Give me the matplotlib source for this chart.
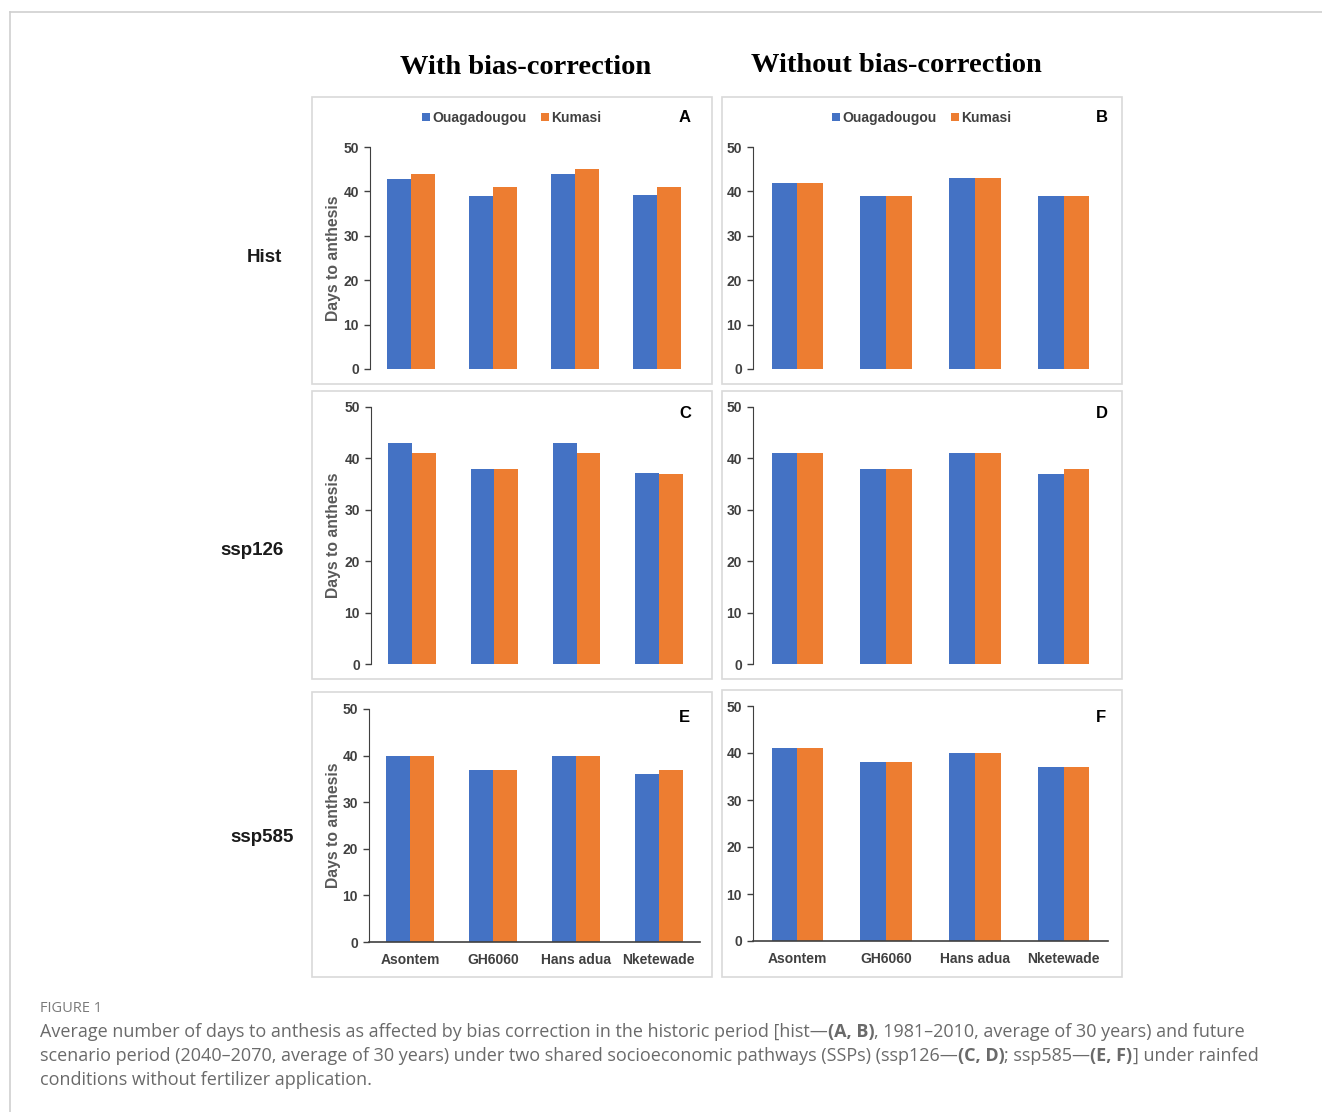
import matplotlib
matplotlib.use("Agg")
import matplotlib.pyplot as plt
from matplotlib.patches import Rectangle
from matplotlib.lines import Line2D
import numpy as np

W, H = 1322, 1112

cultivars = ["Asontem", "GH6060", "Hans adua", "Nketewade"]
sites = ["Ouagadougou", "Kumasi"]
colors = ["#4472C4", "#ED7D31"]

# days to anthesis, one pair of series per panel
a_ouaga = [42.7, 39, 44, 39.3]
a_kumasi = [44, 41, 45, 41]
b_ouaga = [42, 39, 43, 39]
b_kumasi = [42, 39, 43, 39]
c_ouaga = [43, 38, 43, 37.1]
c_kumasi = [41, 38, 41, 37]
d_ouaga = [41, 38, 41, 37]
d_kumasi = [41, 38, 41, 38]
e_ouaga = [40, 37, 40, 36]
e_kumasi = [40, 37, 40, 37]
f_ouaga = [41, 38, 40, 37]
f_kumasi = [41, 38, 40, 37]

panel_letters = ["A", "B", "C", "D", "E", "F"]
panel_data = [(a_ouaga, a_kumasi), (b_ouaga, b_kumasi), (c_ouaga, c_kumasi),
              (d_ouaga, d_kumasi), (e_ouaga, e_kumasi), (f_ouaga, f_kumasi)]
row_labels = ["Hist", "ssp126", "ssp585"]
col_titles = ["With bias-correction", "Without bias-correction"]
yticks = [0, 10, 20, 30, 40, 50]

# pixel layout: axes (left, right, top, bottom) and outer boxes (x0, x1, y0, y1)
axes_px = [(370, 698, 147, 369), (753, 1108, 147, 369),
           (371, 700, 407, 664), (753, 1108, 407, 664),
           (369, 700, 709, 942), (753, 1108, 706, 941)]
boxes_px = [(312, 712, 97, 384), (722, 1122, 97, 384),
            (312, 712, 391, 679), (722, 1122, 391, 679),
            (312, 712, 692, 977), (722, 1122, 690, 977)]
letter_px = [(685, 118), (1102, 118), (685, 414), (1102, 414), (684, 718), (1101, 718)]

plt.rcParams["font.family"] = ["Liberation Sans", "DejaVu Sans"]
fig = plt.figure(figsize=(W / 100, H / 100), dpi=100)
dark = "#404040"


def fx(x):
    return x / W


def fy(y):
    return 1 - y / H


# outer frame of the figure
fig.add_artist(Line2D([fx(10), 1], [fy(12), fy(12)], color="#cfcfcf", lw=1.2))
fig.add_artist(Line2D([fx(10), fx(10)], [fy(12), 0], color="#cfcfcf", lw=1.2))

x = np.arange(len(cultivars))
bw = 0.29
for i, (ouaga, kumasi) in enumerate(panel_data):
    x0, x1, y0, y1 = boxes_px[i]
    fig.add_artist(Rectangle((fx(x0), fy(y1)), (x1 - x0) / W, (y1 - y0) / H,
                             transform=fig.transFigure, fill=False,
                             ec="#d9d9d9", lw=1.2))
    l, r, t, b = axes_px[i]
    ax = fig.add_axes([fx(l), fy(b), (r - l) / W, (b - t) / H])
    ax.bar(x - bw / 2, ouaga, bw, color=colors[0], label=sites[0])
    ax.bar(x + bw / 2, kumasi, bw, color=colors[1], label=sites[1])
    ax.set_xlim(-0.5, 3.5)
    ax.set_ylim(0, 50)
    ax.set_yticks(yticks)
    ax.tick_params(axis="y", length=4, width=1, color=dark, labelcolor=dark,
                   labelsize=10, pad=4)
    for lab in ax.get_yticklabels():
        lab.set_fontweight("bold")
    for s in ["top", "right"]:
        ax.spines[s].set_visible(False)
    ax.spines["left"].set_color(dark)
    if i >= 4:
        ax.spines["bottom"].set_color(dark)
        ax.spines["bottom"].set_linewidth(1.2)
        ax.set_xticks(x)
        ax.set_xticklabels(cultivars, fontsize=10, fontweight="bold", color=dark)
        ax.tick_params(axis="x", length=0, pad=8)
    else:
        ax.spines["bottom"].set_visible(False)
        ax.set_xticks([])
    if i % 2 == 0:
        ax.set_ylabel("Days to anthesis", fontsize=11.3, fontweight="bold", color="#595959")
        ax.yaxis.set_label_coords(-(l - 341) / (r - l), 0.5)
    if i < 2:
        ax.legend(loc="center", bbox_to_anchor=(fx((x0 + x1) / 2), fy(118)),
                  bbox_transform=fig.transFigure, ncol=2, frameon=False,
                  handlelength=0.55, handleheight=0.55, handletextpad=0.2,
                  columnspacing=1.0, prop={"weight": "bold", "size": 10},
                  labelcolor=dark)
    lx, ly = letter_px[i]
    fig.text(fx(lx), fy(ly), panel_letters[i], ha="center", va="center",
             fontsize=12, fontweight="bold", color="black")

# column and row headings
fig.text(fx(526), fy(68), col_titles[0], ha="center", va="center",
         family="Liberation Serif", fontsize=20.5, fontweight="bold")
fig.text(fx(896), fy(66), col_titles[1], ha="center", va="center",
         family="Liberation Serif", fontsize=20.5, fontweight="bold")
for lab, (px, py) in zip(row_labels, [(264, 257), (252, 551), (262, 838)]):
    fig.text(fx(px), fy(py), lab, ha="center", va="center", fontsize=13.5,
             fontweight="bold", color="#1a1a1a")

# caption, with bold panel references inside the text
fig.text(fx(40), fy(1008), "FIGURE 1", ha="left", va="center",
         family="Open Sans", fontsize=10.5, color="#7a7a7a")
cap_lines = [
    [("Average number of days to anthesis as affected by bias correction in the historic period [hist\u2014", False),
     ("(A, B)", True), (", 1981\u20132010, average of 30 years) and future", False)],
    [("scenario period (2040\u20132070, average of 30 years) under two shared socioeconomic pathways (SSPs) (ssp126\u2014", False),
     ("(C, D)", True), ("; ssp585\u2014", False), ("(E, F)", True), ("] under rainfed", False)],
    [("conditions without fertilizer application.", False)],
]
renderer = fig.canvas.get_renderer()
for k, runs in enumerate(cap_lines):
    xpos = 40
    for txt, bold in runs:
        t = fig.text(fx(xpos), fy(1032 + 24 * k), txt, ha="left", va="center",
                     family="Open Sans", fontsize=13, color="#6a6a6a",
                     fontweight="bold" if bold else "normal")
        xpos += t.get_window_extent(renderer).width

fig.savefig("out.png", dpi=100)
